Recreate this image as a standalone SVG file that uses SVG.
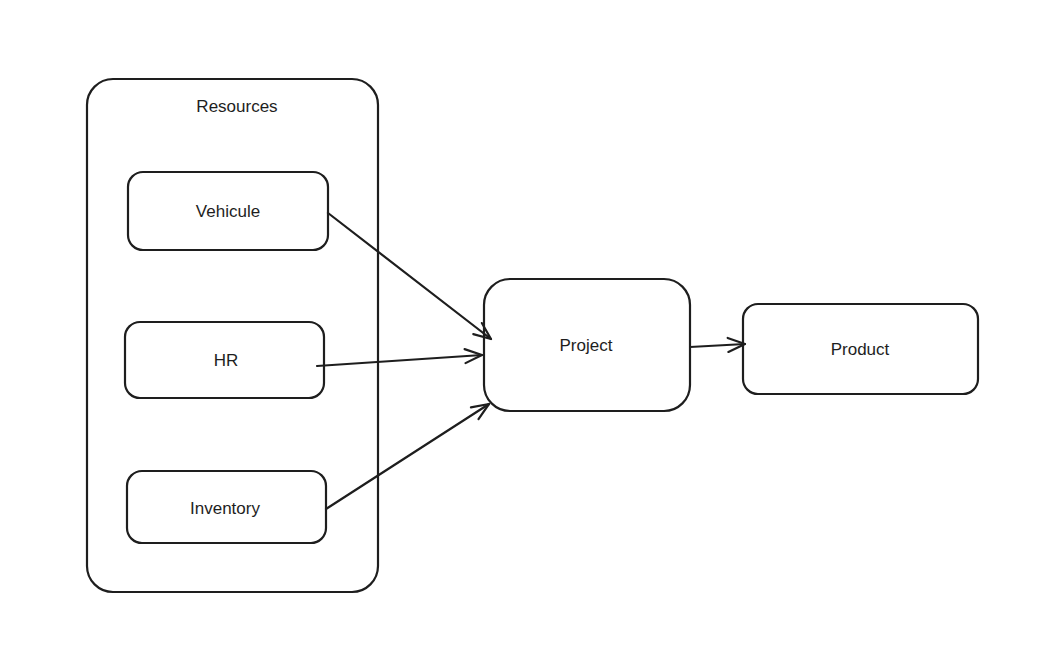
<svg xmlns="http://www.w3.org/2000/svg" width="1042" height="665" viewBox="0 0 1042 665">
<style>
.box{fill:none;stroke:#1e1e1e;stroke-width:2.2;stroke-linejoin:round}
.lbl{font-family:"Liberation Sans",Arial,sans-serif;font-size:17px;fill:#1e1e1e;text-anchor:middle;dominant-baseline:central}
.con{fill:none;stroke:#1e1e1e;stroke-width:2.2;stroke-linecap:round}
</style>
<defs>
<marker id="ah" markerUnits="userSpaceOnUse" markerWidth="30" markerHeight="30" refX="21" refY="15" orient="auto" viewBox="0 0 30 30">
<path d="M4 8 L21 15 L4 22" fill="none" stroke="#1e1e1e" stroke-width="2.2" stroke-linecap="round" stroke-linejoin="round"/>
</marker>
</defs>
<rect width="1042" height="665" fill="#ffffff"/>
<g id="resources">
<rect class="box" x="87" y="79" width="291" height="513" rx="26"/>
<text class="lbl" x="237" y="106">Resources</text>
</g>
<g id="vehicule">
<rect class="box" x="128" y="172" width="200" height="78" rx="15"/>
<text class="lbl" x="228" y="211">Vehicule</text>
</g>
<g id="hr">
<rect class="box" x="125" y="322" width="199" height="76" rx="15"/>
<text class="lbl" x="226" y="360">HR</text>
</g>
<g id="inventory">
<rect class="box" x="127" y="471" width="199" height="72" rx="15"/>
<text class="lbl" x="225" y="508">Inventory</text>
</g>
<g id="project">
<rect class="box" x="484" y="279" width="206" height="132" rx="26"/>
<text class="lbl" x="586" y="345">Project</text>
</g>
<g id="product">
<rect class="box" x="743" y="304" width="235" height="90" rx="15"/>
<text class="lbl" x="860" y="349">Product</text>
</g>
<g id="connectors">
<path class="con" d="M328 213 L491 339" marker-end="url(#ah)"/>
<path class="con" d="M317 366 L482 355" marker-end="url(#ah)"/>
<path class="con" d="M326 509 L489 404" marker-end="url(#ah)"/>
<path class="con" d="M690 347 L745 344" marker-end="url(#ah)"/>
</g>
</svg>
